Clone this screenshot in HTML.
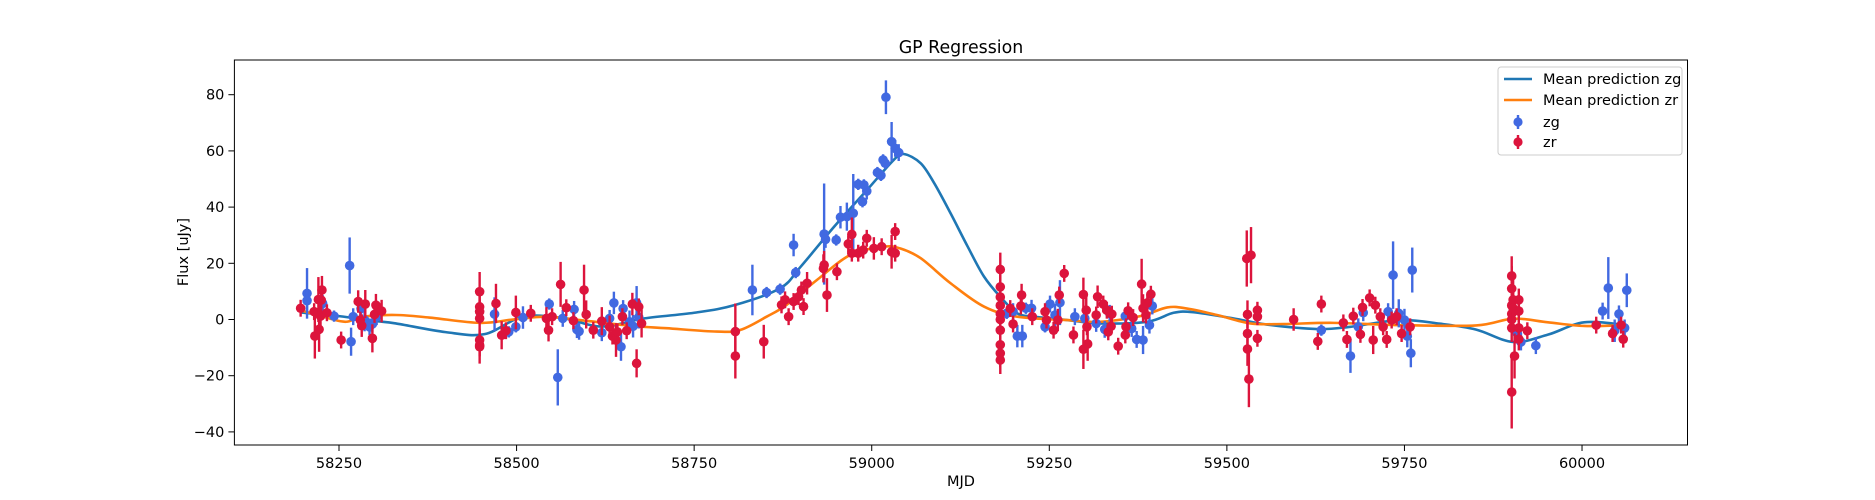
<!DOCTYPE html>
<html><head><meta charset="utf-8"><style>
html,body{margin:0;padding:0;background:#fff;}
svg{display:block;font-family:"DejaVu Sans","Liberation Sans",sans-serif;}
</style></head><body>
<svg id="chart" width="1875" height="500" viewBox="0 0 1875 500" xmlns="http://www.w3.org/2000/svg">
<rect width="1875" height="500" fill="#fff"/>
<text x="961" y="53" font-size="17.4" text-anchor="middle" fill="#000">GP Regression</text>
<g id="plot"></g>
<g id="axes"></g>
<text x="961" y="486" font-size="14.5" text-anchor="middle" fill="#000">MJD</text>
<text transform="translate(188,252) rotate(-90)" font-size="14.5" text-anchor="middle" fill="#000">Flux [uJy]</text>
<g>
<rect x="1498" y="67" width="184" height="88" rx="3" fill="#fff" fill-opacity="0.8" stroke="#ccc" stroke-width="1"/>
<line x1="1504" y1="79" x2="1532" y2="79" stroke="#1f77b4" stroke-width="2.6"/>
<text x="1543" y="84" font-size="14.5">Mean prediction zg</text>
<line x1="1504" y1="100" x2="1532" y2="100" stroke="#ff7f0e" stroke-width="2.6"/>
<text x="1543" y="105" font-size="14.5">Mean prediction zr</text>
<line x1="1518" y1="115" x2="1518" y2="129" stroke="#4169e1" stroke-width="2.4"/>
<circle cx="1518" cy="122" r="4.6" fill="#4169e1"/>
<text x="1543" y="127" font-size="14.5">zg</text>
<line x1="1518" y1="135" x2="1518" y2="149" stroke="#dc143c" stroke-width="2.4"/>
<circle cx="1518" cy="142" r="4.6" fill="#dc143c"/>
<text x="1543" y="147" font-size="14.5">zr</text>
</g>
</svg>
<script>
const xTicks=[58250,58500,58750,59000,59250,59500,59750,60000];
const yTicks=[-40,-20,0,20,40,60,80];
const zgMJD=[58205,58205,58227,58243,58265,58267,58270,58281,58286,58293,58297,58303,58469,58489,58499,58509,58546,58558,58565,58581,58585,58588,58620,58631,58637,58650,58647,58659,58664,58669,58672,58832,58852,58871,58893,58890,58933,58935,58950,58956,58965,58974,58987,58993,58981,58989,59008,59013,59016,59019,59020,59028,59033,59038,59190,59205,59217,59199,59212,59225,59244,59251,59258,59265,59286,59300,59316,59328,59335,59357,59366,59373,59382,59391,59395,59633,59674,59685,59692,59727,59734,59742,59750,59754,59759,59761,59909,59914,59935,60029,60037,60046,60052,60060,60063];
const zgFlux=[9.3,6.7,5.7,1.2,19.2,-7.9,1,3.9,-0.2,-2.6,-1.6,1,1.9,-4.4,-2.6,0.7,5.5,-20.6,0.4,3.6,-3.6,-4.2,-4.7,0.4,5.9,3.9,-9.7,-0.8,-2.4,5.9,0.8,10.5,9.6,10.8,16.7,26.5,30.4,28.5,28.3,36.4,36.6,37.8,41.9,45.7,48.1,47.9,52.3,51.3,56.8,55.6,79.1,63.3,60.9,59.4,2.2,-5.9,4,2.8,-5.9,4,-2.6,5.5,1.6,6,1,0.4,-1.4,-3.5,2.2,1.2,-3.2,-7.1,-7.3,-2,4.8,-3.8,-13,-2.6,2.4,2.8,15.8,2.2,-0.2,-5.9,-12,17.6,-5,-8,-9.3,3,11.2,-4,2,-3,10.4];
const zgErr=[9,4,3,2,10,5,3,3,4,3,3,3,6,2,2,4,2,10,3,3,3,3,3,3,4,3,5,4,4,6,4,9,2,2,2,4,18,3,2,4,5,14,2,3,2,2,2,2,2,2,6,7,3,3,2,4,2,3,4,3,2,3,4,8,3,3,3,3,3,3,3,3,5,3,3,2,6,3,3,3,12,5,4,4,5,8,3,3,3,3,11,4,3,3,6];
const zrMJD=[58196,58215,58216,58221,58222,58224,58226,58225,58233,58253,58277,58282,58280,58287,58300,58297,58302,58310,58448,58448,58448,58448,58448,58448,58448,58471,58479,58485,58499,58520,58542,58545,58550,58562,58570,58580,58595,58598,58608,58620,58631,58635,58640,58642,58649,58655,58663,58669,58672,58676,58808,58808,58848,58873,58878,58883,58890,58897,58901,58904,58909,58932,58933,58937,58951,58967,58972,58972,58981,58988,58993,59003,59014,59028,59033,59033,59181,59181,59181,59181,59181,59181,59181,59181,59181,59181,59195,59199,59211,59210,59226,59244,59246,59256,59262,59264,59271,59284,59298,59298,59302,59303,59304,59318,59316,59326,59331,59333,59337,59338,59347,59357,59358,59361,59368,59380,59382,59386,59388,59393,59528,59534,59529,59529,59529,59531,59543,59543,59543,59594,59628,59633,59664,59669,59678,59688,59691,59701,59709,59706,59716,59720,59725,59732,59739,59746,59758,59901,59901,59901,59901,59901,59901,59901,59905,59903,59903,59911,59911,59911,59911,59923,60020,60043,60058,60055];
const zrFlux=[4,2.8,-5.9,7.1,-3.5,1.2,10.5,6.9,2.4,-7.3,6.4,-2.2,-0.2,5.5,1.8,-6.7,5.1,3,9.9,4.5,2.8,0.4,-7.3,-9.1,-9.7,5.7,-5.6,-4,2.5,2.2,0.4,-3.8,1,12.5,4.2,-0.4,10.5,1.8,-3.8,-0.6,-2.6,-5.9,-7.3,-4.4,1,-4,5.5,-15.6,4.5,-1.4,-4.3,-13,-7.9,5.2,7,1,6.4,8.1,10.5,4.6,12.9,18.2,19.4,8.7,17,26.9,30.3,23.6,23.6,24.7,28.9,25.3,25.9,24.1,31.3,23.6,17.8,11.6,8,5,2,0,-3.8,-9,-12,-14.4,3.9,-1.6,8.7,4.8,1,2.8,-0.2,-3.8,-0.2,8.7,16.4,-5.5,8.9,-10.6,3.3,-2.6,-8.7,8.1,1.6,5.5,3.3,-4.4,-2.4,1.9,-9.5,-5.5,-2.6,3.1,0.7,12.6,4,1.6,5.9,9,21.7,22.9,1.8,-5,-10.5,-21.2,3.3,1,-6.7,0,-7.8,5.5,-1.2,-7.1,1.2,-5.3,4.3,7.7,5.1,-7.3,1,-2.6,-7.1,-0.2,1,-5,-2.6,15.5,11,5,2,0,-3,-25.8,-13,7,4,7,3,-3,-7,-4,-2,-5,-7,-2];
const zrErr=[3,3,8,8,8,4,5,5,3,3,4,4,3,5,3,5,4,4,7,4,4,4,4,4,6,7,5,3,6,3,4,4,3,8,3,3,9,5,3,5,4,3,6,3,3,3,4,5,3,5,10,8,6,3,3,3,3,3,3,3,4,5,5,6,3,3,6,3,3,3,3,4,3,6,3,3,6,8,6,5,5,6,10,6,5,5,3,3,4,3,3,3,3,3,4,3,3,3,6,7,6,3,6,4,3,3,3,3,3,3,3,3,3,3,3,9,5,3,3,3,10,10,5,5,6,10,3,3,3,4,3,3,3,3,3,3,3,3,3,5,3,3,3,3,3,3,3,7,8,8,5,5,5,13,8,10,6,4,4,4,4,3,3,3,3,3];
const gpZgMJD=[58196,58250,58300,58330,58400,58455,58509,58565,58620,58680,58753,58808,58871,58900,58947,58993,59031,59045,59069,59088,59111,59135,59158,59182,59205,59228,59275,59322,59388,59425,59453,59509,59556,59627,59674,59744,59800,59851,59903,59952,60003,60063];
const gpZgFlux=[2.5,1.2,-0.5,-1.4,-4.5,-5.2,1,0.5,-2.5,0.4,2.5,5.2,11.1,18.8,33,46,56.8,58.9,55.6,48.5,37.8,26,15.3,7.8,2.2,1,-0.2,-1.4,-0.8,2.4,2.6,0.4,-1.8,-3.4,-2.6,-0.2,-1.5,-3.6,-8,-5.4,-1,-2];
const gpZrMJD=[58196,58236,58260,58284,58330,58377,58448,58495,58542,58589,58659,58711,58782,58815,58852,58880,58923,58970,59017,59040,59069,59111,59158,59205,59275,59322,59378,59416,59444,59486,59533,59580,59650,59744,59851,59903,59952,60003,60063];
const gpZrFlux=[3.3,0.4,-0.8,1,1.6,0.7,-1.2,0,1,-0.2,-2.2,-3.1,-4.3,-3.7,1,5.2,14.1,23,25.9,25.3,21.8,12.9,4.6,1,-0.2,-0.8,1.2,4.3,3.9,1.6,-1.4,-1.6,-1.2,-2,-2.1,0.3,-1,-2.3,-2];

const L=234.4,R=1687.5,T=60,B=445;
const X0=58250,XPX=339,XS=0.7103;
const Y0PX=319.5,YS=2.81;
function xs(v){return XPX+(v-X0)*XS;}
function ys(v){return Y0PX-v*YS;}
const NS="http://www.w3.org/2000/svg";
function mk(tag,attrs,parent){const e=document.createElementNS(NS,tag);for(const k in attrs)e.setAttribute(k,attrs[k]);parent.appendChild(e);return e;}
const plot=document.getElementById('plot'),axes=document.getElementById('axes');
const clip=mk('clipPath',{id:'clp'},plot);mk('rect',{x:L,y:T,width:R-L,height:B-T},clip);
const inner=mk('g',{'clip-path':'url(#clp)'},plot);

function curve(xa,ya,color,name){
  const p=xa.map((x,i)=>[xs(x),ys(ya[i])]);
  let d='M'+p[0][0]+','+p[0][1];
  for(let i=0;i<p.length-1;i++){
    const p0=p[Math.max(0,i-1)],p1=p[i],p2=p[i+1],p3=p[Math.min(p.length-1,i+2)];
    const c1=[p1[0]+(p2[0]-p0[0])/6,p1[1]+(p2[1]-p0[1])/6];
    const c2=[p2[0]-(p3[0]-p1[0])/6,p2[1]-(p3[1]-p1[1])/6];
    d+=' C'+c1[0]+','+c1[1]+' '+c2[0]+','+c2[1]+' '+p2[0]+','+p2[1];
  }
  const e=mk('path',{d:d,fill:'none',stroke:color,'stroke-width':2.6},inner);
  
  
}
curve(gpZgMJD,gpZgFlux,'#1f77b4','mean-prediction-zg-line');
curve(gpZrMJD,gpZrFlux,'#ff7f0e','mean-prediction-zr-line');

function points(xa,ya,ea,color,name){
  const g=mk('g',{},inner);
  
  
  xa.forEach((x,i)=>{
    const cx=xs(x),cy=ys(ya[i]);
    const l=mk('line',{x1:cx,x2:cx,y1:ys(ya[i]+ea[i]),y2:ys(ya[i]-ea[i]),stroke:color,'stroke-width':2.4},g);
    
    
    const c=mk('circle',{cx:cx,cy:cy,r:4.8,fill:color},g);
    
    
  });
}
points(zgMJD,zgFlux,zgErr,'#4169e1','zg');
points(zrMJD,zrFlux,zrErr,'#dc143c','zr');

const frame=mk('rect',{x:L,y:T,width:R-L,height:B-T,fill:'none',stroke:'#000','stroke-width':1},axes);


xTicks.forEach(v=>{
  const x=xs(v);
  mk('line',{x1:x,x2:x,y1:B,y2:B+6,stroke:'#000','stroke-width':1},axes);
  const t=mk('text',{x:x,y:B+23,'font-size':14.5,'text-anchor':'middle'},axes);
  t.textContent=v;
  
  
});
yTicks.forEach(v=>{
  const y=ys(v);
  mk('line',{x1:L-6,x2:L,y1:y,y2:y,stroke:'#000','stroke-width':1},axes);
  const t=mk('text',{x:L-10,y:y+5,'font-size':14.5,'text-anchor':'end'},axes);
  t.textContent=v<0?'\u2212'+Math.abs(v):v;
  
  
});
</script>
</body></html>
